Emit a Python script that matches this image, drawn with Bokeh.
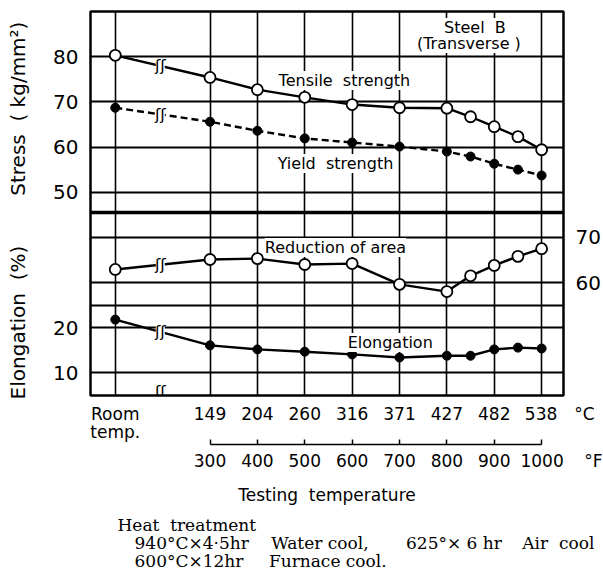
import numpy as np
from bokeh.plotting import figure
from bokeh.models import Range1d, LinearAxis, FixedTicker, Label, Span, Title
from bokeh.core.properties import value
from bokeh.embed import file_html
from bokeh.resources import INLINE

# ---------------- data ----------------
# x position of each test on the chart's °F scale (room temperature drawn at the 100 slot)
x_slot = [100, 300, 400, 500, 600, 700, 800, 850, 900, 950, 1000]
tensile = [80.3, 75.4, 72.7, 71.0, 69.4, 68.7, 68.6, 66.7, 64.5, 62.3, 59.4]      # kg/mm2
yield_s = [68.7, 65.6, 63.6, 61.9, 61.0, 60.1, 59.0, 57.9, 56.3, 55.0, 53.7]      # kg/mm2
reduction = [62.9, 65.1, 65.3, 64.0, 64.2, 59.6, 58.0, 61.5, 63.8, 65.8, 67.5]    # %
elongation = [21.8, 16.1, 15.2, 14.7, 14.1, 13.4, 13.8, 13.8, 15.2, 15.6, 15.4]   # %

c_ticks = [100, 300, 400, 500, 600, 700, 800, 900, 1000]
c_labels = ["Room\ntemp.", "149", "204", "260", "316", "371", "427", "482", "538"]
f_ticks = [300, 400, 500, 600, 700, 800, 900, 1000]
f_labels = ["300", "400", "500", "600", "700", "800", "900", "1000"]
stress_ticks = [50, 60, 70, 80]
elong_ticks = [10, 20]
ra_ticks = [60, 70]
h_grid = [10, 20, 25, 30, 40, 50, 60, 70, 80]
panel_sep = 45.5
ra_offset = 30          # reduction-of-area scale = elongation scale + 30
break_x = 195

EM, EN, NB, TH, FG = "\u2003", "\u2002", "\u00a0", "\u2009", "\u2007"

# ---------------- layout ----------------
W, H = 603, 580
FL, FR, FT, FB = 90, 565, 11, 395
X0, X1 = 47.7, 1046.2
Y0, Y1 = 5.0, 90.0


def dx(px):
    return X0 + (px - FL) * (X1 - X0) / (FR - FL)


def dy(py):
    return Y0 + (FB - py) * (Y1 - Y0) / (FB - FT)


FONT = "DejaVu Sans"
SERIF = "DejaVu Serif"

p = figure(width=W, height=H, x_range=Range1d(X0, X1), y_range=Range1d(Y0, Y1),
           output_backend="svg", toolbar_location=None,
           min_border_left=FL, min_border_right=W - FR, min_border_top=FT,
           min_border_bottom=H - FB, background_fill_color="white",
           border_fill_color="white")
p.extra_y_ranges = {"ra": Range1d(Y0 + ra_offset, Y1 + ra_offset)}

p.outline_line_color = "black"
p.outline_line_width = 2.5
p.outline_line_alpha = 1.0

# grids
p.xgrid.ticker = FixedTicker(ticks=c_ticks)
p.xgrid.grid_line_color = "black"
p.xgrid.grid_line_width = 1.6
p.ygrid.ticker = FixedTicker(ticks=h_grid)
p.ygrid.grid_line_color = "black"
p.ygrid.grid_line_width = 2.0
p.add_layout(Span(location=panel_sep, dimension="width", line_color="black", line_width=3.5))


def plain_axis(ax, size, standoff):
    ax.axis_line_color = None
    ax.major_tick_line_color = None
    ax.minor_tick_line_color = None
    ax.major_tick_out = 0
    ax.major_tick_in = 0
    ax.minor_tick_out = 0
    ax.minor_tick_in = 0
    ax.major_label_standoff = standoff
    ax.major_label_text_font = FONT
    ax.major_label_text_font_size = size
    ax.major_label_text_color = "black"


# left axis, with both quantity names in its (rotated) label:
# "Elongation (%)" on the lower panel, "Stress (kg/mm²)" on the upper one
ya = p.yaxis[0]
ya.ticker = FixedTicker(ticks=elong_ticks + stress_ticks)
plain_axis(ya, "20px", 12)
ya.axis_label = ("Elongation" + NB + NB + "(%)" + EM + EM + EN + "Stress" + NB + NB + "(" + NB
                 + "kg/mm²)" + EN + TH)
ya.axis_label_text_font = FONT
ya.axis_label_text_font_style = "normal"
ya.axis_label_text_font_size = "20px"
ya.axis_label_text_color = "black"
ya.axis_label_standoff = 20

# right axis (reduction of area)
ra = LinearAxis(y_range_name="ra", ticker=FixedTicker(ticks=ra_ticks))
plain_axis(ra, "20px", 12)
p.add_layout(ra, "right")

# bottom °C axis
c_over = {t: l for t, l in zip(c_ticks, c_labels)}
c_over[c_ticks[-1]] = EM + EN + FG + c_labels[-1] + EM + "°C"
xa = p.xaxis[0]
xa.ticker = FixedTicker(ticks=c_ticks)
xa.major_label_overrides = c_over
plain_axis(xa, "17px", 8)
xa.major_label_text_line_height = 0.92

# bottom °F axis (bracket)
f_over = {t: l for t, l in zip(f_ticks, f_labels)}
f_over[f_ticks[-1]] = EM + EN + FG + TH + f_labels[-1] + EM + TH + "°F"
fa = LinearAxis(ticker=FixedTicker(ticks=f_ticks), bounds=(300, 1000))
fa.major_label_overrides = f_over
fa.axis_line_color = "black"
fa.axis_line_width = 1.5
fa.major_tick_in = 5
fa.major_tick_out = 0
fa.major_tick_line_width = 1.5
fa.minor_tick_line_color = None
fa.minor_tick_in = 0
fa.minor_tick_out = 0
fa.major_label_standoff = 6
fa.major_label_text_font = FONT
fa.major_label_text_font_size = "17px"
fa.major_label_text_color = "black"
fa.axis_label = "Testing" + NB + NB + "temperature"
fa.axis_label_text_font = FONT
fa.axis_label_text_font_style = "normal"
fa.axis_label_text_font_size = "17px"
fa.axis_label_text_color = "black"
fa.axis_label_standoff = 11
p.add_layout(fa, "below")

# heat treatment notes below the chart
note_lines = [
    "Heat" + NB + NB + "treatment",
    EM + "940°C×4·5hr" + EM + NB + "Water cool," + EM + EM + TH + "625°× 6 hr" + EM + TH + "Air" + NB + NB + "cool",
    EM + "600°C×12hr" + EM + EN + "Furnace" + NB + "cool.",
]
p.add_layout(Title(text="\n".join(note_lines), align="left", offset=27, standoff=10,
                   text_font=SERIF, text_font_size="17px", text_font_style="normal",
                   text_line_height=0.9, text_color="black"), "below")

# ---------------- data series ----------------
xs = np.array(x_slot, dtype=float)
p.line(xs, tensile, line_color="black", line_width=2.4)
p.line(xs, yield_s, line_color="black", line_width=2.4, line_dash="7 4")
p.line(xs, reduction, y_range_name="ra", line_color="black", line_width=2.4)
p.line(xs, elongation, line_color="black", line_width=2.4)

# break marks between room temperature and 149 °C
frac = (break_x - x_slot[0]) / (x_slot[1] - x_slot[0])
bys = [tensile[0] + frac * (tensile[1] - tensile[0]),
       yield_s[0] + frac * (yield_s[1] - yield_s[0]),
       reduction[0] + frac * (reduction[1] - reduction[0]) - ra_offset,
       elongation[0] + frac * (elongation[1] - elongation[0])]
bxs = [break_x] * len(bys)
p.rect(bxs, bys, width=9, height=12, width_units="screen", height_units="screen",
       fill_color="white", line_color=None)
p.text(bxs + [break_x], bys + [Y0 + 0.8], text=["ʃʃ"] * (len(bys) + 1),
       text_font=value(FONT), text_font_size="16px", text_align="center",
       text_baseline="middle", text_color="black")

p.scatter(xs, tensile, marker="circle", size=11, fill_color="white",
          line_color="black", line_width=1.8)
p.scatter(xs, yield_s, marker="circle", size=9, fill_color="black", line_color="black")
p.scatter(xs, reduction, y_range_name="ra", marker="circle", size=11,
          fill_color="white", line_color="black", line_width=1.8)
p.scatter(xs, elongation, marker="circle", size=9, fill_color="black", line_color="black")


# ---------------- texts inside the frame ----------------
def lab(text, px, py, size="16px"):
    p.add_layout(Label(x=dx(px), y=dy(py), text=text, text_font=FONT, text_font_size=size,
                       text_align="center", text_baseline="middle", text_color="black",
                       background_fill_color="white", background_fill_alpha=1.0))


lab("Tensile" + NB + NB + "strength", 345, 80)
lab("Yield" + NB + NB + "strength", 336, 163)
lab("Reduction" + NB + "of" + NB + "area", 336, 247)
lab("Elongation", 391, 342)
lab("Steel" + NB + NB + "B", 476, 27)
lab("(Transverse )", 470, 43)

open("out.html", "w").write(file_html(p, INLINE))
